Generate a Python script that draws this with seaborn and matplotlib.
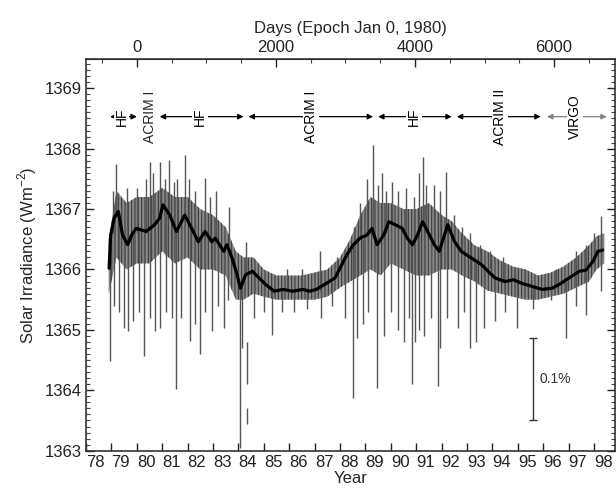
import numpy as np
import pandas as pd
import seaborn as sns
import matplotlib.pyplot as plt
import matplotlib.ticker as ticker
import matplotlib.transforms as mtrans

# smoothed composite (black curve)
smooth_year = [78.91, 78.97, 79.11, 79.27, 79.44, 79.64, 79.80, 79.97, 80.37, 80.70,
               80.90, 81.03, 81.30, 81.56, 81.89, 82.16, 82.42, 82.69, 82.95, 83.09,
               83.42, 83.55, 83.75, 83.95, 84.08, 84.28, 84.55, 84.81, 85.08, 85.41,
               85.74, 86.14, 86.54, 86.80, 87.07, 87.46, 87.80, 88.00, 88.26, 88.53,
               88.79, 89.06, 89.26, 89.46, 89.72, 89.92, 90.18, 90.45, 90.65, 90.85,
               91.05, 91.25, 91.45, 91.71, 91.91, 92.11, 92.24, 92.51, 92.77, 93.17,
               93.57, 93.83, 94.10, 94.50, 94.83, 95.16, 95.56, 95.96, 96.35, 96.62,
               97.02, 97.42, 97.68, 97.95, 98.15, 98.34]
smooth_val = [1366.02, 1366.57, 1366.85, 1366.96, 1366.57, 1366.41, 1366.57, 1366.68, 1366.63, 1366.74,
              1366.85, 1367.07, 1366.90, 1366.63, 1366.90, 1366.68, 1366.46, 1366.63, 1366.46, 1366.52,
              1366.30, 1366.41, 1366.19, 1365.91, 1365.69, 1365.91, 1365.97, 1365.86, 1365.75, 1365.64,
              1365.67, 1365.64, 1365.67, 1365.64, 1365.67, 1365.77, 1365.86, 1366.02, 1366.24, 1366.41,
              1366.52, 1366.57, 1366.68, 1366.41, 1366.57, 1366.79, 1366.74, 1366.68, 1366.52, 1366.41,
              1366.57, 1366.79, 1366.63, 1366.41, 1366.30, 1366.57, 1366.74, 1366.46, 1366.30, 1366.19,
              1366.08, 1365.97, 1365.86, 1365.80, 1365.83, 1365.77, 1365.72, 1365.67, 1365.69, 1365.75,
              1365.86, 1365.97, 1365.99, 1366.13, 1366.30, 1366.32]

# envelope of the dense daily values
band_year = [78.9, 79.2, 79.6, 80.0, 80.5, 81.0, 81.5, 82.0, 82.5, 83.0, 83.5, 83.9, 84.2, 84.6,
             85.0, 85.5, 86.0, 86.5, 87.0, 87.5, 88.0, 88.4, 88.8, 89.2, 89.6, 90.0, 90.5, 91.0,
             91.5, 92.0, 92.4, 92.8, 93.3, 93.8, 94.3, 94.8, 95.3, 95.8, 96.3, 96.8, 97.3, 97.8,
             98.1, 98.4]
band_hi = [1366.5, 1367.3, 1367.1, 1367.2, 1367.2, 1367.35, 1367.2, 1367.2, 1367.0, 1366.9, 1366.7,
           1366.3, 1366.2, 1366.2, 1366.0, 1365.9, 1365.9, 1365.9, 1365.95, 1366.0, 1366.2, 1366.5,
           1366.9, 1367.2, 1367.1, 1367.1, 1367.0, 1367.0, 1367.1, 1366.9, 1366.8, 1366.6, 1366.4,
           1366.3, 1366.15, 1366.05, 1366.0, 1365.9, 1365.95, 1366.05, 1366.2, 1366.4, 1366.55, 1366.6]
band_lo = [1365.6, 1366.2, 1366.0, 1366.1, 1366.1, 1366.3, 1366.1, 1366.2, 1366.0, 1366.0, 1365.9,
           1365.5, 1365.5, 1365.6, 1365.55, 1365.5, 1365.5, 1365.5, 1365.5, 1365.55, 1365.7, 1365.8,
           1365.9, 1366.0, 1365.9, 1366.1, 1366.0, 1365.9, 1365.9, 1366.0, 1366.0, 1365.9, 1365.8,
           1365.65, 1365.6, 1365.55, 1365.5, 1365.5, 1365.55, 1365.6, 1365.7, 1365.8, 1366.0, 1366.1]

# single-day dips (sunspot passages)
dip_year = [78.95, 79.10, 79.30, 79.48, 79.64, 79.84, 80.10, 80.27, 80.50, 80.70, 80.90, 81.15,
            81.40, 81.56, 81.75, 82.09, 82.30, 82.49, 82.70, 82.95, 83.20, 83.42, 83.60, 84.08,
            84.14, 84.33, 84.35, 84.60, 85.00, 85.32, 85.70, 86.20, 86.70, 87.24, 87.70, 88.20,
            88.50, 88.66, 88.90, 89.10, 89.46, 89.72, 90.00, 90.30, 90.52, 90.70, 90.85, 90.95,
            91.10, 91.32, 91.60, 91.84, 91.95, 92.20, 92.64, 92.90, 93.10, 93.35, 93.68, 94.10,
            94.50, 94.96, 95.60, 96.30, 96.88, 97.30, 97.68, 98.28]
dip_lo = [1364.48, 1365.40, 1365.30, 1365.03, 1364.98, 1365.14, 1365.30, 1364.57, 1365.20, 1364.98,
          1365.03, 1365.30, 1365.20, 1364.02, 1365.20, 1364.81, 1365.10, 1364.60, 1365.30, 1364.98,
          1365.40, 1365.03, 1365.50, 1363.05, 1364.70, 1364.10, 1363.44, 1365.20, 1365.30, 1364.92,
          1365.30, 1365.30, 1365.35, 1365.20, 1365.40, 1365.20, 1363.88, 1364.87, 1365.10, 1365.30,
          1364.04, 1364.90, 1365.30, 1365.00, 1364.80, 1365.20, 1364.10, 1364.80, 1365.00, 1364.90,
          1365.20, 1364.07, 1364.70, 1365.20, 1365.03, 1365.30, 1364.70, 1364.80, 1365.03, 1365.14,
          1365.30, 1365.03, 1365.35, 1365.50, 1364.87, 1365.40, 1365.25, 1365.64]
dip_hi = [1366.2, 1366.8, 1366.9, 1366.6, 1366.4, 1366.6, 1366.7, 1366.6, 1366.7, 1366.7,
          1366.8, 1367.0, 1366.8, 1366.6, 1366.8, 1366.7, 1366.6, 1366.5, 1366.6, 1366.5,
          1366.4, 1366.3, 1366.4, 1365.7, 1365.8, 1364.8, 1363.7, 1366.0, 1365.8, 1365.7,
          1365.7, 1365.7, 1365.7, 1365.7, 1365.8, 1366.2, 1366.4, 1366.5, 1366.5, 1366.6,
          1366.4, 1366.6, 1366.8, 1366.7, 1366.6, 1366.5, 1366.4, 1366.5, 1366.6, 1366.7,
          1366.5, 1366.3, 1366.3, 1366.7, 1366.4, 1366.3, 1366.2, 1366.1, 1366.0, 1365.9,
          1365.8, 1365.8, 1365.7, 1365.7, 1365.8, 1365.9, 1366.0, 1366.3]

# single-day peaks (faculae)
peak_year = [79.05, 79.20, 79.60, 80.00, 80.35, 80.50, 80.62, 80.90, 81.10, 81.27, 81.45, 81.60,
             81.89, 82.05, 82.30, 82.69, 82.90, 83.10, 83.62, 84.30, 85.90, 86.50, 87.20, 87.90,
             88.55, 88.80, 89.05, 89.30, 89.50, 89.65, 89.80, 90.05, 90.30, 90.60, 90.90, 91.10,
             91.25, 91.40, 91.70, 91.95, 92.18, 92.50, 92.80, 93.10, 93.50, 93.90, 94.40, 94.90,
             95.30, 96.50, 97.30, 97.70, 98.00, 98.28]
peak_lo = [1366.6, 1366.9, 1366.4, 1366.6, 1366.6, 1366.7, 1366.7, 1366.8, 1367.0, 1366.9, 1366.7,
           1366.6, 1366.9, 1366.7, 1366.6, 1366.6, 1366.5, 1366.5, 1366.4, 1365.9, 1365.65, 1365.65,
           1365.65, 1365.9, 1366.4, 1366.5, 1366.6, 1366.6, 1366.4, 1366.5, 1366.6, 1366.8, 1366.7,
           1366.5, 1366.4, 1366.6, 1366.8, 1366.6, 1366.4, 1366.3, 1366.6, 1366.5, 1366.3, 1366.2,
           1366.1, 1366.0, 1365.8, 1365.8, 1365.75, 1365.7, 1365.9, 1366.0, 1366.1, 1366.3]
peak_hi = [1367.3, 1367.75, 1367.35, 1367.35, 1367.5, 1367.78, 1367.6, 1367.78, 1367.5, 1367.81,
           1367.45, 1367.5, 1367.89, 1367.5, 1367.3, 1367.51, 1367.2, 1367.3, 1367.04, 1366.46,
           1366.0, 1366.0, 1366.3, 1366.2, 1366.7, 1367.1, 1367.5, 1368.06, 1367.4, 1367.6,
           1367.3, 1367.45, 1367.3, 1367.35, 1367.2, 1367.6, 1367.86, 1367.4, 1367.4, 1367.3,
           1367.62, 1366.9, 1366.7, 1366.6, 1366.4, 1366.3, 1366.2, 1366.0, 1366.0, 1366.0,
           1366.3, 1366.4, 1366.6, 1366.88]

# instrument periods
inst_names = ["HF", "HF", "ACRIM I", "HF", "ACRIM II", "VIRGO"]
inst_start = [78.95, 80.9, 84.4, 89.5, 92.6, 96.15]
inst_end = [80.0, 84.2, 89.3, 92.4, 95.9, 98.5]
inst_text = [79.4, 82.5, 86.85, 90.9, 94.3, 97.25]
inst_color = ["black", "black", "black", "black", "black", "#808080"]

sns.set_style("ticks")
plt.rcParams['font.family'] = ['Liberation Sans', 'DejaVu Sans']
plt.rcParams['mathtext.fontset'] = 'custom'
plt.rcParams['mathtext.rm'] = 'Liberation Sans'
plt.rcParams['hatch.linewidth'] = 0.8

fig = plt.figure(figsize=(6.16, 4.94), dpi=100)
ax = fig.add_axes([0.1396, 0.0877, 0.8590, 0.7923])

ax.fill_between(band_year, band_lo, band_hi, facecolor='#8a8a8a', edgecolor='#3c3c3c',
                hatch='|||||', lw=0)
ax.vlines(dip_year, dip_lo, dip_hi, color='#555555', lw=1.0)
ax.vlines(peak_year, peak_lo, peak_hi, color='#555555', lw=1.0)
smooth = pd.DataFrame({'year': smooth_year, 'value': smooth_val})
sns.lineplot(data=smooth, x='year', y='value', color='black', lw=2.3, ax=ax)

# instrument labels
y_arrow = 1368.53
for name, x0, x1, xt, c in zip(inst_names, inst_start, inst_end, inst_text, inst_color):
    ax.annotate('', xy=(x0, y_arrow), xytext=(x1, y_arrow),
                arrowprops=dict(arrowstyle='<|-|>', color=c, lw=0.9,
                                mutation_scale=8, shrinkA=0, shrinkB=0))
    ax.text(xt, y_arrow, name, rotation=90, ha='center', va='center', fontsize=10,
            color='black', bbox=dict(facecolor='white', edgecolor='none', pad=0.6))
ax.text(80.5, y_arrow, "ACRIM I", rotation=90, ha='center', va='center', fontsize=10)

# 0.1% scale bar
ax.errorbar([95.6], [1364.19], yerr=[[0.68], [0.68]], color='#333333', lw=1.0,
            capsize=3, capthick=1.0)
ax.text(95.85, 1364.19, "0.1%", fontsize=10, va='center', ha='left', color='#333333')

ax.set_xlim(78, 98.83)
ax.set_ylim(1363, 1369.48)
ax.xaxis.set_major_locator(ticker.MultipleLocator(1))
ax.xaxis.set_major_formatter(ticker.FuncFormatter(lambda v, p: '%d' % v))
ax.yaxis.set_major_locator(ticker.MultipleLocator(1))
ax.yaxis.set_minor_locator(ticker.MultipleLocator(0.1))
ax.yaxis.set_major_formatter(ticker.FormatStrFormatter('%d'))
ax.tick_params(axis='both', which='major', direction='in', length=6, width=1.0,
               labelsize=12, colors='#222222', pad=3)
ax.tick_params(axis='y', which='minor', direction='in', length=3, width=0.8,
               right=True, left=True, colors='#444444')
ax.tick_params(axis='y', which='major', right=True)
ax.tick_params(axis='x', which='both', top=False)

offset = mtrans.ScaledTranslation(0.094, 0, fig.dpi_scale_trans)
for lab in ax.get_xticklabels():
    lab.set_transform(lab.get_transform() + offset)

for s in ax.spines.values():
    s.set_linewidth(1.2)
    s.set_color('#333333')

ax.set_xlabel("Year", fontsize=12, labelpad=1)
ax.set_ylabel("Solar Irradiance (Wm$^{-2}$)", fontsize=12, labelpad=4)

top = ax.secondary_xaxis('top', functions=(lambda y: (y - 80) * 365.25,
                                           lambda d: d / 365.25 + 80))
top.xaxis.set_major_locator(ticker.FixedLocator([0, 2000, 4000, 6000]))
top.xaxis.set_minor_locator(ticker.FixedLocator([-500, 500, 1000, 1500, 2500, 3000, 3500,
                                                 4500, 5000, 5500, 6500]))
top.xaxis.set_major_formatter(ticker.FormatStrFormatter('%d'))
top.tick_params(which='major', direction='in', length=6, width=1.0, labelsize=12,
                colors='#222222', pad=3)
top.tick_params(which='minor', direction='in', length=3, width=0.8, colors='#444444')
top.set_xlabel("Days (Epoch Jan 0, 1980)", fontsize=12, labelpad=5)

fig.savefig("out.png", dpi=100)
